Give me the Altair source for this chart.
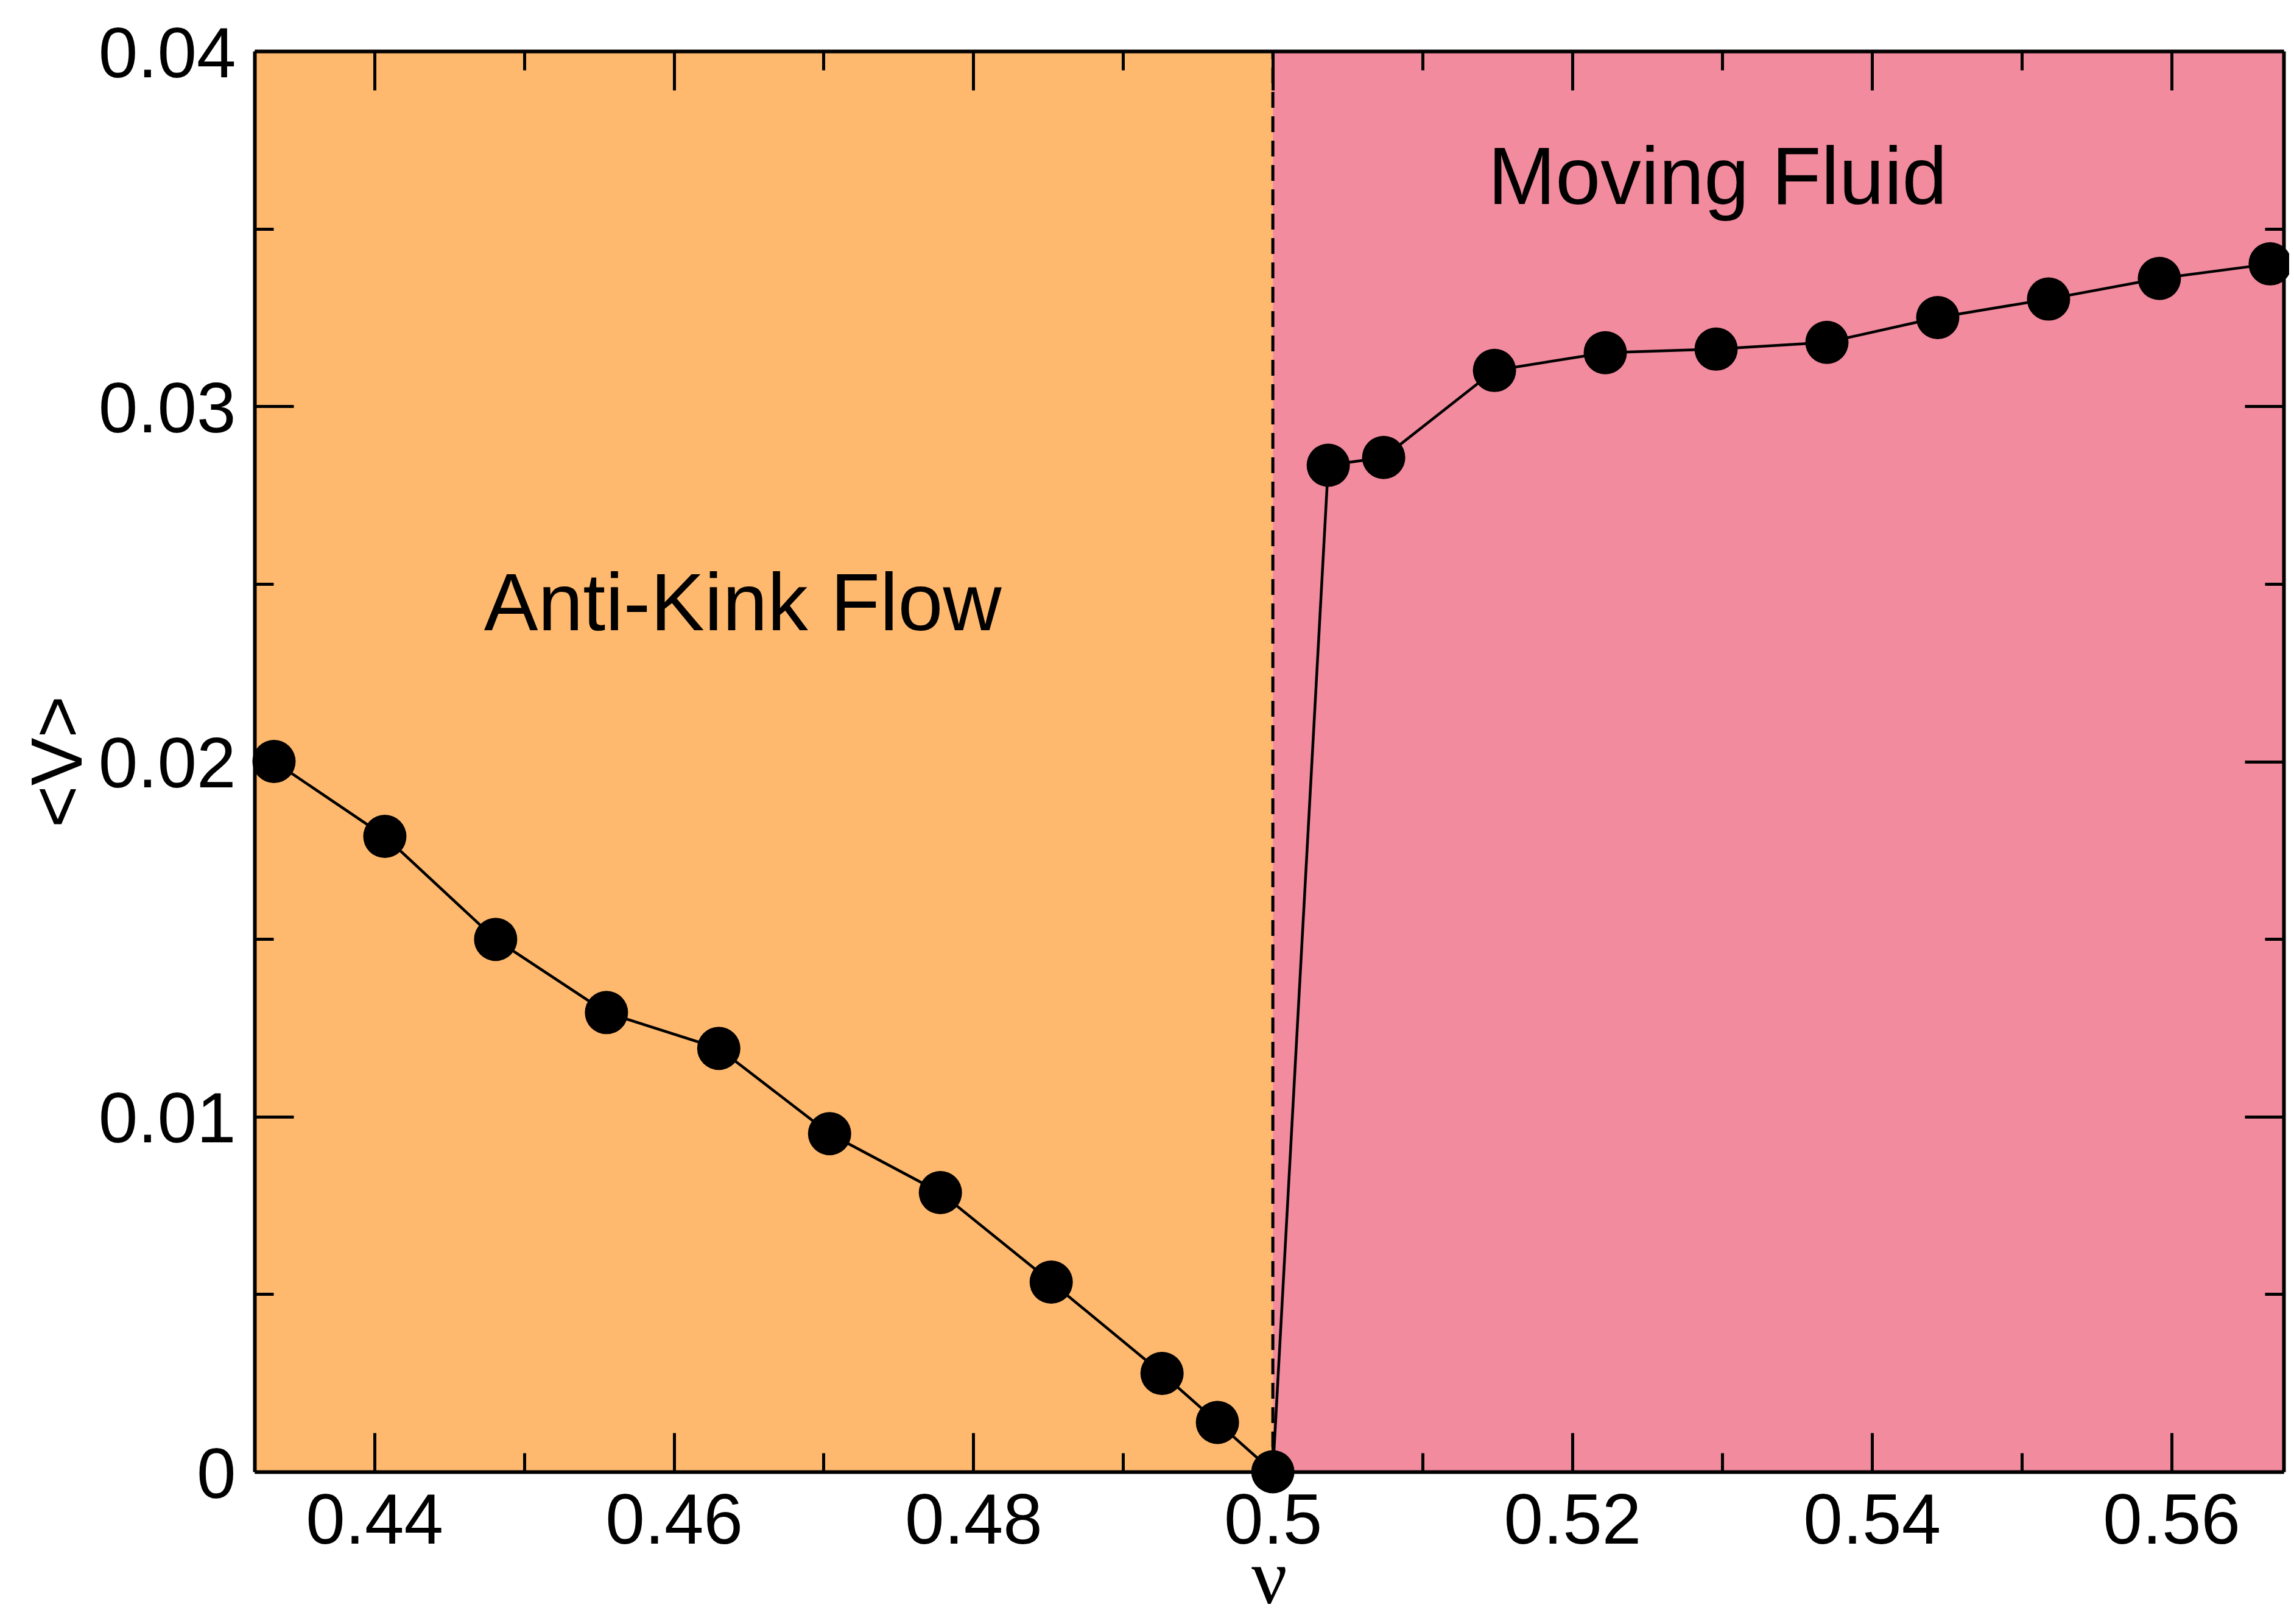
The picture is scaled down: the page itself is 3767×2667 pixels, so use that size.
import altair as alt
import pandas as pd

# ---- data ----
nu = [0.4333, 0.4407, 0.4481, 0.4555, 0.4630, 0.4704, 0.4778, 0.4852, 0.4926, 0.4963,
      0.5000, 0.5037, 0.5074, 0.5148, 0.5222, 0.5296, 0.5370, 0.5444, 0.5518, 0.5592, 0.5666]
vel = [0.02000, 0.01789, 0.01499, 0.01293, 0.01192, 0.00952, 0.00786, 0.00534, 0.00277, 0.00139,
       0.00000, 0.02834, 0.02856, 0.03101, 0.03151, 0.03161, 0.03180, 0.03250, 0.03302, 0.03360, 0.03401]

region_name = ["Anti-Kink Flow", "Moving Fluid"]
region_start = [0.432, 0.5]
region_end = [0.5, 0.5675]
region_color = ["#FFB96E", "#F28B9E"]

label_nu = [0.4646, 0.5297]
label_v = [0.0237, 0.0357]

critical_nu = [0.5]

x_domain = [0.432, 0.5675]
y_domain = [0.0, 0.04]
x_major = [0.44, 0.46, 0.48, 0.5, 0.52, 0.54, 0.56]
x_minor = [0.45, 0.47, 0.49, 0.51, 0.53, 0.55]
y_major = [0.0, 0.01, 0.02, 0.03, 0.04]
y_minor = [0.005, 0.015, 0.025, 0.035]

# ---- layout ----
W, H = 3332, 2333
MAJ, MIN = 64, 31
FONT = "Liberation Sans"
LABEL_SIZE = 116

pts = pd.DataFrame({"nu": nu, "v": vel})
regions = pd.DataFrame({
    "x0": region_start, "x1": region_end, "name": region_name,
    "y0": [y_domain[0]] * 2, "y1": [y_domain[1]] * 2,
})
labels = pd.DataFrame({"nu": label_nu, "v": label_v, "text": region_name})
crit = pd.DataFrame({"nu": critical_nu, "y0": [y_domain[0]], "y1": [y_domain[1]]})

xs = alt.Scale(domain=x_domain, nice=False, zero=False)
ys = alt.Scale(domain=y_domain, nice=False, zero=False)


def tick_axis(orient, values, size):
    return alt.Axis(orient=orient, values=values, ticks=True, tickSize=size, tickWidth=5,
                    tickColor="black", offset=-size, labels=False, domain=False, grid=False,
                    title=None, zindex=1)


def frame_axis(orient):
    return alt.Axis(orient=orient, ticks=False, tickSize=0, labels=False, domain=True,
                    domainWidth=6, domainColor="black", grid=False, title=None, zindex=1)


x_label_axis = alt.Axis(
    orient="bottom", values=x_major, format="~g", ticks=False, tickSize=0,
    labelPadding=117, labelBaseline="alphabetic", labelFont=FONT, labelFontSize=LABEL_SIZE,
    labelColor="black", labelFlush=False, labelOverlap=False, labelLimit=0,
    domain=True, domainWidth=6, domainColor="black", grid=False,
    title="ν", titleFont="Liberation Serif", titleFontSize=130, titleFontWeight="normal",
    titleColor="black", titleX=W / 2, titleY=215, titleBaseline="alphabetic",
    titleAlign="center", zindex=1,
)
y_label_axis = alt.Axis(
    orient="left", values=y_major, format="~g", ticks=False, tickSize=0,
    labelPadding=31, labelAlign="right", labelBaseline="middle", labelOffset=7,
    labelFont=FONT, labelFontSize=LABEL_SIZE, labelColor="black", labelFlush=False,
    labelOverlap=False, labelLimit=0,
    domain=True, domainWidth=6, domainColor="black", grid=False,
    title="<V>", titleFont=FONT, titleFontSize=118, titleFontWeight="normal",
    titleColor="black", titleAngle=270, titleX=-285, titleY=H / 2,
    titleBaseline="alphabetic", titleAlign="center", zindex=1,
)

rect = alt.Chart(regions).mark_rect().encode(
    x=alt.X("x0:Q", scale=xs, axis=x_label_axis),
    x2="x1",
    y=alt.Y("y0:Q", scale=ys, axis=y_label_axis),
    y2="y1",
    color=alt.Color("name:N", scale=alt.Scale(domain=region_name, range=region_color), legend=None),
)

rule = alt.Chart(crit).mark_rule(color="black", strokeWidth=5, strokeDash=[26, 14]).encode(
    x=alt.X("nu:Q", scale=xs, axis=tick_axis("bottom", x_major, MAJ)),
    y=alt.Y("y0:Q", scale=ys, axis=tick_axis("left", y_major, MAJ)),
    y2="y1",
)

line = alt.Chart(pts).mark_line(color="black", strokeWidth=4.5).encode(
    x=alt.X("nu:Q", scale=xs, axis=tick_axis("bottom", x_minor, MIN)),
    y=alt.Y("v:Q", scale=ys, axis=tick_axis("left", y_minor, MIN)),
)

points = alt.Chart(pts).mark_circle(color="black", size=5041, opacity=1).encode(
    x=alt.X("nu:Q", scale=xs, axis=tick_axis("top", x_major, MAJ)),
    y=alt.Y("v:Q", scale=ys, axis=tick_axis("right", y_major, MAJ)),
)

text = alt.Chart(labels).mark_text(font=FONT, fontSize=133, align="center",
                                   baseline="alphabetic", color="black").encode(
    x=alt.X("nu:Q", scale=xs, axis=tick_axis("top", x_minor, MIN)),
    y=alt.Y("v:Q", scale=ys, axis=tick_axis("right", y_minor, MIN)),
    text="text:N",
)

frame = alt.Chart(pts).mark_point(opacity=0).encode(
    x=alt.X("nu:Q", scale=xs, axis=frame_axis("top")),
    y=alt.Y("v:Q", scale=ys, axis=frame_axis("right")),
)

chart = alt.layer(rect, rule, line, points, text, frame).resolve_axis(
    x="independent", y="independent"
).properties(
    width=W, height=H,
    autosize=alt.AutoSizeParams(type="none"),
    padding={"left": 410, "top": 76, "right": 9, "bottom": 242},
).configure_view(strokeWidth=0)

chart.save("out.html", embed_options={"renderer": "svg", "actions": False})
